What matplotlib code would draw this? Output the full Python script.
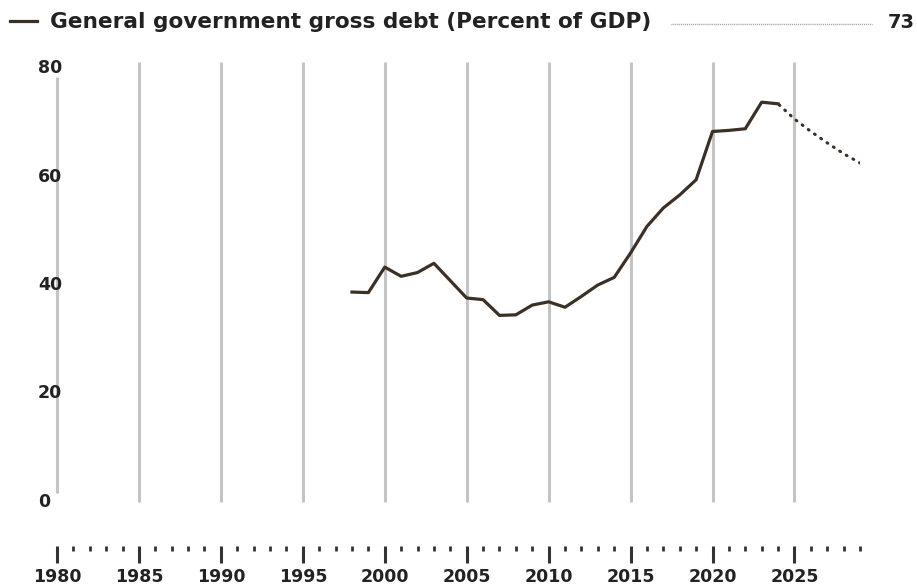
import matplotlib.pyplot as plt

# data
years = [1998, 1999, 2000, 2001, 2002, 2003, 2004, 2005, 2006, 2007, 2008,
         2009, 2010, 2011, 2012, 2013, 2014, 2015, 2016, 2017, 2018, 2019,
         2020, 2021, 2022, 2023, 2024]
debt = [38.7, 38.6, 43.3, 41.6, 42.3, 44.0, 40.8, 37.6, 37.3, 34.4, 34.5,
        36.3, 36.9, 35.9, 37.9, 40.0, 41.4, 45.9, 50.8, 54.2, 56.6, 59.4,
        68.3, 68.5, 68.8, 73.7, 73.4]
proj_years = [2024, 2025, 2026, 2027, 2028, 2029]
proj_debt = [73.4, 70.6, 68.3, 66.2, 64.2, 62.5]
y_ticks = [0, 20, 40, 60, 80]
grid_years = [1980, 1985, 1990, 1995, 2000, 2005, 2010, 2015, 2020, 2025]
latest_label = '73'
title = 'General government gross debt (Percent of GDP)'

W, H = 917, 585
line_color = '#3b3026'
text_color = '#222222'
font = 'DejaVu Sans'

fig = plt.figure(figsize=(W / 100, H / 100), dpi=100)
ax = fig.add_axes([57 / W, 1 - 502 / H, (860 - 57) / W, (502 - 68) / H])
ax.set_xlim(1980, 2029)
ax.set_ylim(0, 80)

# vertical grid lines
ax.vlines(grid_years[1:], 0, 81.1, color='#c4c4c4', lw=2.2, clip_on=False, zorder=1)
ax.vlines([1980], 1.7, 78.3, color='#c4c4c4', lw=2.2, clip_on=False, zorder=1)

ax.plot(years, debt, color=line_color, lw=2.3, solid_joinstyle='round', zorder=3)
ax.plot(proj_years, proj_debt, color=line_color, lw=2.2,
        linestyle=(2, (0.3, 2.2)), dash_capstyle='round', zorder=3)

# y labels drawn as text, left of the axis
for v in y_ticks:
    ax.text(38 / W, 1 - (502 - v * 5.425) / H, str(v), transform=fig.transFigure,
            ha='left', va='center', fontsize=12.5, fontweight='bold',
            color=text_color, family=font)
ax.set_yticks([])

# x axis: ticks only, pushed down
for s in ['top', 'right', 'left']:
    ax.spines[s].set_visible(False)
ax.spines['bottom'].set_position(('outward', 31.5))
ax.spines['bottom'].set_color('none')
ax.set_xticks(grid_years)
ax.set_xticks(range(1980, 2030), minor=True)
ax.tick_params(axis='x', which='major', length=12, width=2.2, color='#333333',
               labelsize=12.5, labelcolor=text_color, pad=4)
ax.tick_params(axis='x', which='minor', length=3.5, width=2, color='#333333')
for lab in ax.get_xticklabels():
    lab.set_fontweight('bold')
    lab.set_family(font)

# header legend
fig.add_artist(plt.Line2D([10 / W, 37 / W], [1 - 21 / H, 1 - 21 / H],
                          color=line_color, lw=2.3))
fig.text(50 / W, 1 - 22 / H, title, ha='left', va='center', fontsize=15.6,
         color=text_color, family=font, fontweight='bold')
fig.add_artist(plt.Line2D([671 / W, 872 / W], [1 - 24 / H, 1 - 24 / H],
                          color='#9a9a9a', lw=1, linestyle=(0, (0.7, 0.7))))
fig.text(915 / W, 1 - 22 / H, latest_label, ha='right', va='center', fontsize=14,
         color=text_color, family=font, fontweight='bold')

fig.savefig('out.png', dpi=100)
